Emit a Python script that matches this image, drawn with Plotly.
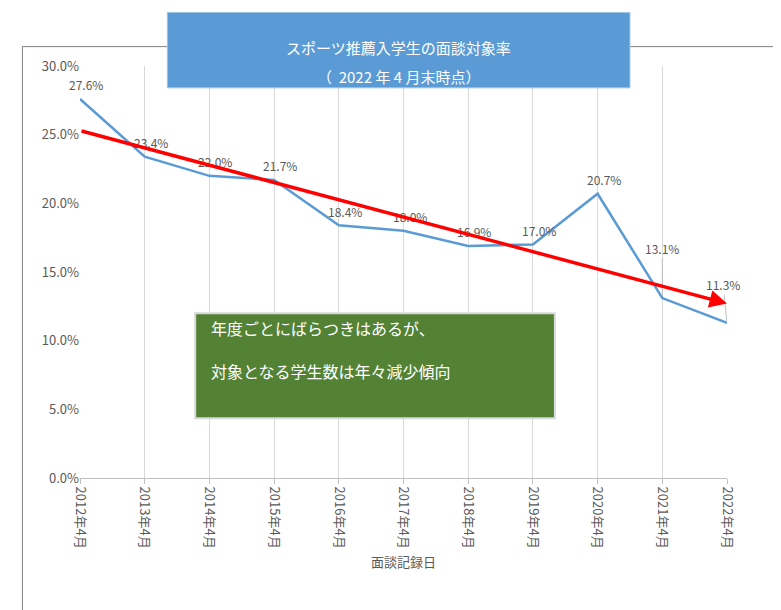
import plotly.graph_objects as go

years = ["2012年4月","2013年4月","2014年4月","2015年4月","2016年4月","2017年4月","2018年4月","2019年4月","2020年4月","2021年4月","2022年4月"]
rates = [27.6,23.4,22.0,21.7,18.4,18.0,16.9,17.0,20.7,13.1,11.3]
trend_start = 25.3
trend_end = 12.7

x = list(range(len(years)))
fig = go.Figure()
fig.add_trace(go.Scatter(x=x, y=rates, mode="lines", line=dict(color="#5b9bd5", width=2.5), hoverinfo="skip"))

for i, v in enumerate(rates):
    dy = -14
    dx = 0
    if i == 9: dy = -50
    if i == 10: dy = -38; dx = -4
    fig.add_annotation(x=i, y=v, text=f"{v:.1f}%", showarrow=(i >= 9), ax=dx, ay=dy,
                       arrowhead=0, arrowcolor="#bfbfbf", arrowwidth=1, standoff=2,
                       xshift=0 if i >= 9 else 6,
                       yshift=0 if i >= 9 else 14,
                       font=dict(size=12, color="#595959"))

fig.add_annotation(x=10, y=trend_end, ax=0, ay=trend_start, axref="x", ayref="y", xref="x", yref="y",
                   showarrow=True, arrowhead=2, arrowsize=1, arrowwidth=3.5, arrowcolor="#ff0000", text="")

fig.update_layout(
    width=781, height=610, plot_bgcolor="white", paper_bgcolor="white",
    margin=dict(l=72, r=62, t=58, b=140), showlegend=False,
    font=dict(family="Noto Sans CJK JP"),
    xaxis=dict(range=[0, 10], tickvals=x, ticktext=years, tickangle=90, showgrid=True, automargin=False,
               gridcolor="#d9d9d9", zeroline=False, showline=True, linecolor="#bfbfbf",
               ticks="outside", tickcolor="#bfbfbf", ticklen=5,
               tickfont=dict(size=13, color="#595959"),
               title=dict(text="面談記録日", font=dict(size=13, color="#595959"), standoff=10)),
    yaxis=dict(range=[0, 30], dtick=5, tickformat=".1f", ticksuffix="%", showgrid=False, automargin=False,
               zeroline=False, tickfont=dict(size=13, color="#595959")),
    shapes=[
        dict(type="rect", xref="paper", yref="paper", x0=-0.089, x1=1.075, y0=-0.332, y1=1.047,
             line=dict(color="#7f7f7f", width=1), layer="below"),
        dict(type="rect", xref="paper", yref="paper", x0=0.135, x1=0.850, y0=0.947, y1=1.13,
             fillcolor="#5b9bd5", line=dict(color="#9dc3e6", width=1)),
        dict(type="rect", xref="paper", yref="paper", x0=0.178, x1=0.734, y0=0.145, y1=0.40,
             fillcolor="#548235", line=dict(color="#d9d9d9", width=2)),
    ],
)
fig.add_annotation(xref="paper", yref="paper", x=0.492, y=1.075, showarrow=False,
                   text="スポーツ推薦入学生の面談対象率", font=dict(size=15, color="white"))
fig.add_annotation(xref="paper", yref="paper", x=0.492, y=1.005, showarrow=False,
                   text="（  2022 年 4 月末時点）", font=dict(size=15, color="white"))
fig.add_annotation(xref="paper", yref="paper", x=0.20, y=0.33, xanchor="left", showarrow=False,
                   text="年度ごとにばらつきはあるが、", font=dict(size=16, color="white"))
fig.add_annotation(xref="paper", yref="paper", x=0.20, y=0.225, xanchor="left", showarrow=False,
                   text="対象となる学生数は年々減少傾向", font=dict(size=16, color="white"))
fig.write_html("out.html")
